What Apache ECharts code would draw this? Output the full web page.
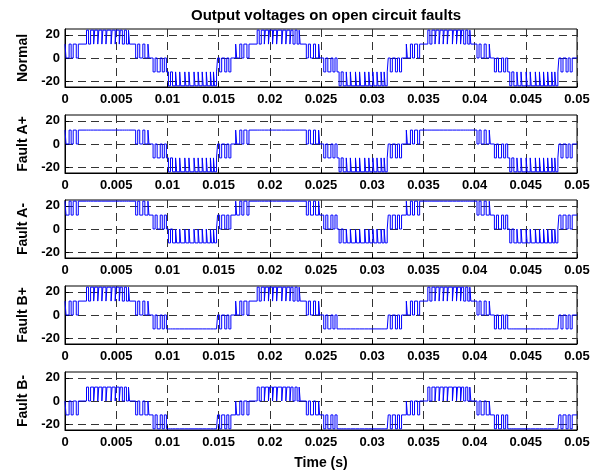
<!DOCTYPE html>
<html>
<head>
<meta charset="utf-8">
<script src="https://cdn.jsdelivr.net/npm/echarts@6/dist/echarts.min.js"></script>
<style>
html, body { margin: 0; padding: 0; background: #fff; }
#chart { width: 597px; height: 473px; }
</style>
</head>
<body>
<div id="chart"></div>
<script>
// subplot labels and axis ticks
const plotNames = ['Normal', 'Fault A+', 'Fault A-', 'Fault B+', 'Fault B-']
const yTicks = [-20, 0, 20]
const tEnd = 0.05

// start of each 60 Hz cycle seen in the picture
const cycleStarts = [0, 0.016667, 0.033333]

// switching instants inside one cycle (s)
const edgeTimes = [
  0.0000, 0.0001, 0.0004, 0.0006, 0.0008, 0.0011, 0.0013,
  0.0021, 0.0023, 0.0025, 0.0028, 0.0029, 0.0032, 0.0033, 0.0036, 0.0037, 0.0040, 0.0041,
  0.0045, 0.0046, 0.0049, 0.0050, 0.0053, 0.0054, 0.0056, 0.0058, 0.0060, 0.0062, 0.0063,
  0.0069, 0.0071, 0.0073, 0.0076, 0.0078, 0.0081, 0.0082,
  0.0086, 0.0088, 0.0090, 0.0093, 0.0095, 0.0097, 0.0099,
  0.0101, 0.0103, 0.0105, 0.0108, 0.0109, 0.0112, 0.0113, 0.0117, 0.0118, 0.0121, 0.0122, 0.0126,
  0.0127, 0.0130, 0.0131, 0.0134, 0.0135, 0.0138, 0.0139, 0.0142, 0.0143, 0.0145, 0.0146, 0.0148,
  0.0149, 0.0151, 0.0153, 0.0156, 0.0158, 0.0160, 0.0162
]

// output level after each switching instant (V)
const normalLevels = [
  12, 0, 12, 0, 12, 0, 12,
  24, 12, 24, 12, 24, 12, 24, 12, 24, 12, 24,
  12, 24, 12, 24, 12, 24, 12, 24, 12, 24, 12,
  0, 12, 0, 12, 0, 12, 0,
  -12, 0, -12, 0, -12, 0, -12,
  -24, -12, -24, -12, -24, -12, -24, -12, -24, -12, -24, -12,
  -24, -12, -24, -12, -24, -12, -24, -12, -24, -12, -24, -12,
  0, -12, 0, -12, 0, -12, 0
]
const faultApLevels = [
  12, 0, 12, 0, 12, 0, 12,
  12, 12, 12, 12, 12, 12, 12, 12, 12, 12, 12,
  12, 12, 12, 12, 12, 12, 12, 12, 12, 12, 12,
  0, 12, 0, 12, 0, 12, 0,
  -12, 0, -12, 0, -12, 0, -12,
  -24, -12, -24, -12, -24, -12, -24, -12, -24, -12, -24, -12,
  -24, -12, -24, -12, -24, -12, -24, -12, -24, -12, -24, -12,
  0, -12, 0, -12, 0, -12, 0
]
const faultAmLevels = [
  24, 12, 24, 12, 24, 12, 24,
  24, 24, 24, 24, 24, 24, 24, 24, 24, 24, 24,
  24, 24, 24, 24, 24, 24, 24, 24, 24, 24, 24,
  12, 24, 12, 24, 12, 24, 12,
  0, 12, 0, 12, 0, 12, 0,
  -12, 0, -12, 0, -12, 0, -12, 0, -12, 0, -12, 0,
  -12, 0, -12, 0, -12, 0, -12, 0, -12, 0, -12, 0,
  12, 0, 12, 0, 12, 0, 12
]
const faultBpLevels = [
  12, 0, 12, 0, 12, 0, 12,
  24, 12, 24, 12, 24, 12, 24, 12, 24, 12, 24,
  12, 24, 12, 24, 12, 24, 12, 24, 12, 24, 12,
  0, 12, 0, 12, 0, 12, 0,
  -12, 0, -12, 0, -12, 0, -12,
  -12, -12, -12, -12, -12, -12, -12, -12, -12, -12, -12, -12,
  -12, -12, -12, -12, -12, -12, -12, -12, -12, -12, -12, -12,
  0, -12, 0, -12, 0, -12, 0
]
const faultBmLevels = [
  0, -12, 0, -12, 0, -12, 0,
  12, 0, 12, 0, 12, 0, 12, 0, 12, 0, 12,
  0, 12, 0, 12, 0, 12, 0, 12, 0, 12, 0,
  -12, 0, -12, 0, -12, 0, -12,
  -24, -12, -24, -12, -24, -12, -24,
  -24, -24, -24, -24, -24, -24, -24, -24, -24, -24, -24, -24,
  -24, -24, -24, -24, -24, -24, -24, -24, -24, -24, -24, -24,
  -12, -24, -12, -24, -12, -24, -12
]
const allLevels = [normalLevels, faultApLevels, faultAmLevels, faultBpLevels, faultBmLevels]

function buildTrace(levels) {
  let pts = []
  cycleStarts.forEach(c => {
    edgeTimes.forEach((t, k) => {
      pts.push([c + t, levels[k]])
    })
  })
  pts.push([tEnd, levels[levels.length - 1]])
  return pts
}

const gridTops = [29, 115, 200, 286, 372]
const font = 'Liberation Sans, Arial, sans-serif'
const dashStyle = { color: '#333', width: 1, type: [8, 5] }

let grids = [], xAxes = [], yAxes = [], series = []
plotNames.forEach((name, i) => {
  grids.push({
    left: 65, right: 20, top: gridTops[i], height: 58,
    show: true, borderColor: '#000', borderWidth: 1, backgroundColor: '#fff'
  })
  xAxes.push({
    type: 'value', gridIndex: i, min: 0, max: tEnd, interval: 0.005,
    axisLine: { show: true, onZero: false, lineStyle: { color: '#000', width: 1 } },
    axisTick: { inside: true, length: 4, lineStyle: { color: '#000' } },
    axisLabel: { color: '#000', fontFamily: font, fontWeight: 'bold', fontSize: 13, margin: 6 },
    splitLine: { show: true, lineStyle: dashStyle },
    name: i === plotNames.length - 1 ? 'Time (s)' : '',
    nameLocation: 'middle', nameGap: 26,
    nameTextStyle: { color: '#000', fontFamily: font, fontWeight: 'bold', fontSize: 14 }
  })
  yAxes.push({
    type: 'value', gridIndex: i, min: -25, max: 25,
    axisLine: { show: true, onZero: false, lineStyle: { color: '#000', width: 1 } },
    axisTick: { inside: true, length: 4, customValues: yTicks, lineStyle: { color: '#000' } },
    axisLabel: { customValues: yTicks, color: '#000', fontFamily: font, fontWeight: 'bold', fontSize: 13, margin: 5 },
    splitLine: { show: true, lineStyle: dashStyle },
    name: name, nameLocation: 'middle', nameGap: 33, nameRotate: 90,
    nameTextStyle: { color: '#000', fontFamily: font, fontWeight: 'bold', fontSize: 14 }
  })
  series.push({
    type: 'line', xAxisIndex: i, yAxisIndex: i,
    data: buildTrace(allLevels[i]),
    step: 'end', showSymbol: false, symbol: 'none',
    lineStyle: { color: '#0000ff', width: 1 },
    animation: false, silent: true
  })
})

const myChart = echarts.init(document.getElementById('chart'))
myChart.setOption({
  animation: false,
  backgroundColor: '#fff',
  title: {
    text: 'Output voltages on open circuit faults',
    left: 321, top: 3, textAlign: 'center',
    textStyle: { color: '#000', fontFamily: font, fontWeight: 'bold', fontSize: 15 }
  },
  grid: grids,
  xAxis: xAxes,
  yAxis: yAxes,
  series: series
})
</script>
</body>
</html>
